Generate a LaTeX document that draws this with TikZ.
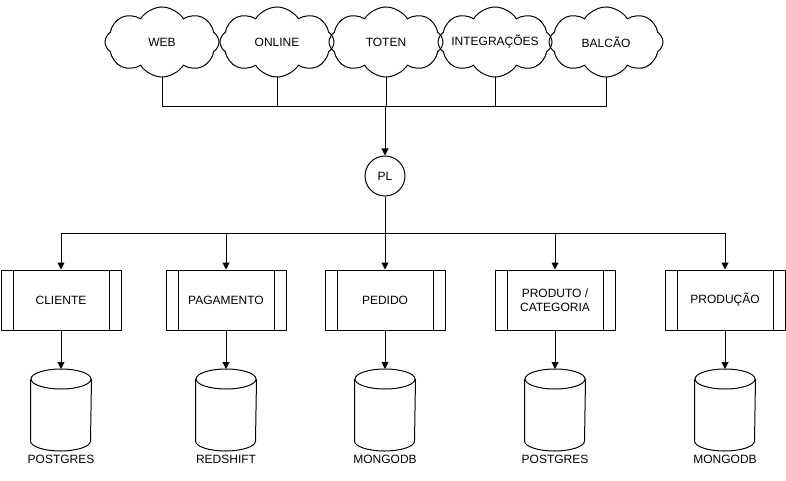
\documentclass[tikz,border=0pt]{standalone}
\usepackage{fontspec}
\setmainfont{Liberation Sans}
\usetikzlibrary{shapes.symbols,arrows.meta}
\tikzset{%
	canal/.style    = {draw, cloud, cloud puffs=8, cloud puff arc=115,
		minimum width=114, minimum height=70, inner sep=0pt}, % Canal
	hub/.style      = {draw, circle, minimum size=40, inner sep=0pt},
	servico/.style  = {draw, rectangle, minimum width=120, minimum height=60,
		align=center, path picture={
			\draw ([xshift=12pt]path picture bounding box.north west) -- ([xshift=12pt]path picture bounding box.south west);
			\draw ([xshift=-12pt]path picture bounding box.north east) -- ([xshift=-12pt]path picture bounding box.south east);}},
	banco/.style    = {rectangle, minimum width=60, minimum height=81,
		inner sep=0pt, label distance=3pt}, % Banco
	seta/.style     = {-{Triangle[length=7pt,width=7pt]}}
}

\begin{document}
\begin{tikzpicture}[x=1pt, y=-1pt, line width=1pt, font=\fontsize{12}{14}\selectfont]
                \useasboundingbox (0,0) rectangle (786,481);

                \node[canal, label=center:WEB] (web) at (162,42) {};
                \node[canal, label=center:ONLINE] (online) at (277,42) {};
                \node[canal, label=center:TOTEN] (toten) at (386,42) {};
                \node[canal, label=center:INTEGRAÇÕES] (integ) at (495,42) {};
                \node[canal, label=center:BALCÃO] (balcao) at (606,42) {};

                \node[hub] (pl) at (385,176) {PL};

                \node[servico] (cliente) at (61,300) {CLIENTE};
                \node[servico] (pagamento) at (226,300) {PAGAMENTO};
                \node[servico] (pedido) at (385,300) {PEDIDO};
                \node[servico] (produto) at (555,300) {PRODUTO /\\CATEGORIA};
                \node[servico] (producao) at (725,300) {PRODUÇÃO};

                \node[banco, label=below:POSTGRES] (db1) at (61,410) {};
                \node[banco, label=below:REDSHIFT] (db2) at (226,410) {};
                \node[banco, label=below:MONGODB] (db3) at (385,410) {};
                \node[banco, label=below:POSTGRES] (db4) at (555,410) {};
                \node[banco, label=below:MONGODB] (db5) at (725,410) {};

                % cilindros
                \foreach \b in {db1,db2,db3,db4,db5} {
                    \draw ([yshift=-10pt]\b.north) ellipse (30pt and 10pt);
                    \draw ([yshift=-10pt]\b.north west) -- ([yshift=10pt]\b.south west)
                        arc (180:360:30pt and 10pt) -- ([yshift=-10pt]\b.north east);
                }

                \coordinate (entrada) at (385,107);
                \coordinate (saida) at (385,233);

                % canais ate o PL
                \draw (web.south) |- (entrada);
                \draw (online.south) |- (entrada);
                \draw (toten.south) |- (entrada);
                \draw (integ.south) |- (entrada);
                \draw (balcao.south) |- (entrada);
                \draw[seta] (entrada) -- (pl);

                % PL ate os servicos
                \draw (pl) -- (saida);
                \draw[seta] (saida) -| (cliente);
                \draw[seta] (saida) -| (pagamento);
                \draw[seta] (saida) -- (pedido);
                \draw[seta] (saida) -| (produto);
                \draw[seta] (saida) -| (producao);

                \draw[seta] (cliente) -- (db1);
                \draw[seta] (pagamento) -- (db2);
                \draw[seta] (pedido) -- (db3);
                \draw[seta] (produto) -- (db4);
                \draw[seta] (producao) -- (db5);
            \end{tikzpicture}
\end{document}
